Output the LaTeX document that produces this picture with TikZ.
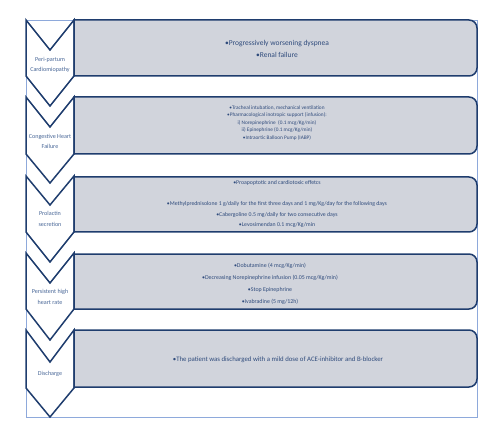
\documentclass[tikz,border=0pt]{standalone}
\usepackage{fontspec}
\setmainfont{Carlito}
\definecolor{navy}{HTML}{1F3D6E}
\definecolor{boxgray}{HTML}{D1D4DC}
\definecolor{txtblue}{HTML}{2F4B7C}
\definecolor{lblblue}{HTML}{4A6898}
\definecolor{framblue}{HTML}{8EA9DB}
\tikzset{
  chevron/.style={draw=navy,fill=white,line width=1.5pt,line join=miter},
  stagebox/.style={draw=navy,fill=boxgray,line width=1.5pt},
  lbl/.style={text=lblblue,align=center,font=\fontsize{6.1}{10.5}\selectfont},
  items/.style={text=txtblue,align=center}
}
\begin{document}
\begin{tikzpicture}[x=1pt,y=-1pt]
\useasboundingbox (0,0) rectangle (500,430);
% frame
\draw[framblue,line width=0.6pt] (26,20) rectangle (477,417);

% stage 1
\draw[chevron] (26,20)--(50,50)--(74,20)--(74,76)--(50,106)--(26,76)--cycle;
\draw[stagebox] (74,76)--(74,20)[rounded corners=8]--(477,20)--(477,76)[sharp corners]--cycle;
\node[lbl] (l1) at (50,65) {Peri-partum\\Cardiomiopathy};
\node[items,font=\fontsize{7.5}{12}\selectfont] (t1) at (277,49)
  {\textbullet Progressively worsening dyspnea\\\textbullet Renal failure};

% stage 2
\draw[chevron] (26,97)--(50,127)--(74,97)--(74,154)--(50,183)--(26,154)--cycle;
\draw[stagebox] (74,154)--(74,97)[rounded corners=8]--(477,97)--(477,154)[sharp corners]--cycle;
\node[lbl] (l2) at (50,141.5) {Congestive Heart\\Failure};
\node[items,font=\fontsize{5.3}{7.5}\selectfont] (t2) at (277,123)
  {\textbullet Tracheal intubation, mechanical ventilation\\
   \textbullet Pharmacological inotropic support (infusion):\\
   i) Norepinephrine\ \ (0.1 mcg/Kg/min)\\
   ii) Epinephrine (0.1 mcg/Kg/min)\\
   \textbullet Intraortic Balloon Pump (IABP)};

% stage 3
\draw[chevron] (26,176)--(50,205)--(74,176)--(74,232)--(50,262)--(26,232)--cycle;
\draw[stagebox] (74,232)--(74,177)[rounded corners=8]--(477,177)--(477,232)[sharp corners]--cycle;
\node[lbl] (l3) at (50,219) {Prolactin\\secretion};
\node[items,font=\fontsize{5.8}{10.5}\selectfont] (t3) at (277,204)
  {\textbullet Proapoptotic and cardiotoxic effetcs\\[10.5pt]
   \textbullet Methylprednisolone 1 g/daily for the first three days and 1 mg/Kg/day for the following days\\
   \textbullet Cabergoline 0.5 mg/daily for two consecutive days\\
   \textbullet Levosimendan 0.1 mcg/Kg/min};

% stage 4
\draw[chevron] (26,253)--(50,283)--(74,253)--(74,309)--(50,340)--(26,309)--cycle;
\draw[stagebox] (74,309)--(74,254)[rounded corners=8]--(477,254)--(477,309)[sharp corners]--cycle;
\node[lbl] (l4) at (50,297) {Persistent high\\heart rate};
\node[items,font=\fontsize{5.9}{12}\selectfont] (t4) at (270,284)
  {\textbullet Dobutamine (4 mcg/Kg/min)\\
   \textbullet Decreasing Norepinephrine infusion (0.05 mcg/Kg/min)\\
   \textbullet Stop Epinephrine\\
   \textbullet Ivabradine (5 mg/12h)};

% stage 5
\draw[chevron] (26,330)--(50,362)--(74,330)--(74,388)--(50,417)--(26,388)--cycle;
\draw[stagebox] (74,387)--(74,330)[rounded corners=8]--(477,330)--(477,387)[sharp corners]--cycle;
\node[lbl] (l5) at (50,374) {Discharge};
\node[items,font=\fontsize{6.8}{12}\selectfont] (t5) at (278,360)
  {\textbullet The patient was discharged with a mild dose of ACE-inhibitor and B-blocker};
\end{tikzpicture}
\end{document}
